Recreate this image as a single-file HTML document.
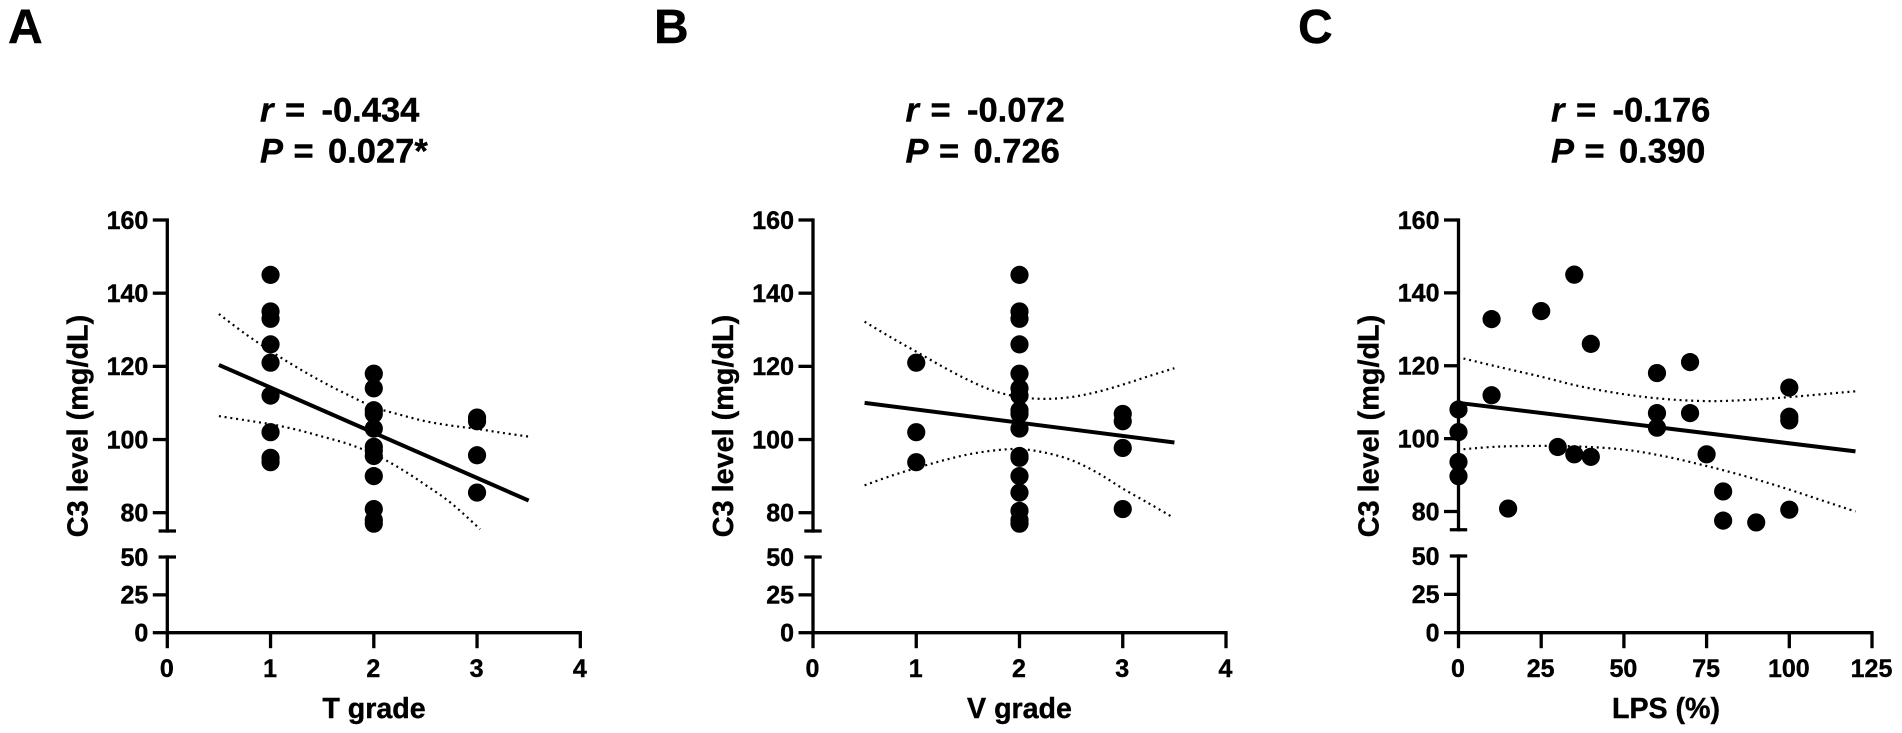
<!DOCTYPE html>
<html lang="en">
<head>
<meta charset="utf-8">
<title>C3 level correlations</title>
<style>
html,body{margin:0;padding:0;background:#fff;width:1902px;height:733px;overflow:hidden}
svg{display:block}
text{font-family:"Liberation Sans",sans-serif;font-weight:bold;fill:#000;stroke:#000;stroke-width:0.4}
</style>
</head>
<body>
<svg id="figure" width="1902" height="733" viewBox="0 0 1902 733" xmlns="http://www.w3.org/2000/svg">
  <rect width="1902" height="733" fill="#fff"/>
  <text x="8" y="43" font-size="48">A</text>
  <text x="654" y="43" font-size="48">B</text>
  <text x="1298" y="43" font-size="48">C</text>

  <text font-size="34.5" y="121.7"><tspan x="260" font-style="italic">r</tspan><tspan x="285">=</tspan><tspan x="321.5">-0.434</tspan></text>
  <text font-size="34.5" y="162.7"><tspan x="260" font-style="italic">P</tspan><tspan x="293.5">=</tspan><tspan x="328">0.027*</tspan></text>
  <text font-size="34.5" y="121.7"><tspan x="905.5" font-style="italic">r</tspan><tspan x="930.5">=</tspan><tspan x="967">-0.072</tspan></text>
  <text font-size="34.5" y="162.7"><tspan x="905.5" font-style="italic">P</tspan><tspan x="939">=</tspan><tspan x="973.5">0.726</tspan></text>
  <text font-size="34.5" y="121.7"><tspan x="1551" font-style="italic">r</tspan><tspan x="1576">=</tspan><tspan x="1612.5">-0.176</tspan></text>
  <text font-size="34.5" y="162.7"><tspan x="1551" font-style="italic">P</tspan><tspan x="1584.5">=</tspan><tspan x="1619">0.390</tspan></text>
</svg>
<script>
// Shared axis tick labels
const upperTicks = [80, 100, 120, 140, 160];
const lowerTicks = [0, 25, 50];
const gradeTicks = [0, 1, 2, 3, 4];
const lpsTicks = [0, 25, 50, 75, 100, 125];

// Panel A: T grade
const aPointsX = [1,1,1,1,1,1,1,1,1,2,2,2,2,2,2,2,2,2,2,2,2,3,3,3,3];
const aPointsY = [145,135,133,126,121,112,102,95,93.8,118,114,108,107,103,98,97,95.5,90,81,78,77,106,105,95.7,85.5];
const aFitX = [0.5, 3.5];
const aFitY = [120.4, 83.3];
const aUpperX = [0.5,0.75,1,1.25,1.5,1.75,2,2.25,2.5,2.75,3,3.25,3.5];
const aUpperY = [134.3,129,124.2,119.8,115.8,112.2,108.9,106.8,105,103.8,102.9,101.8,100.8];
const aLowerX = [0.5,0.75,1,1.25,1.5,1.75,2,2.25,2.5,2.75,3.03];
const aLowerY = [106.4,105.3,104.2,102.7,100.8,98.8,96,92.2,87.6,82.6,75.5];

// Panel B: V grade
const bPointsX = [1,1,1,2,2,2,2,2,2,2,2,2,2,2,2,2,2,2,2,2,3,3,3,3];
const bPointsY = [121,102,93.8,145,135,133,126,118,114,112,108,107,103,95.5,95,90,85.5,80.5,78,77,107,105,97.7,81];
const bFitX = [0.5, 3.5];
const bFitY = [110, 99.2];
const bUpperX = [0.5,0.75,1,1.25,1.5,1.75,2,2.25,2.5,2.75,3,3.25,3.5];
const bUpperY = [132.2,128,124,120,116.3,113.3,111.6,111.1,111.6,113,115,117.3,119.5];
const bLowerX = [0.5,0.75,1,1.25,1.5,1.75,2,2.25,2.5,2.75,3,3.25,3.47];
const bLowerY = [87.5,90,92.2,94.2,95.9,97,97.4,96.4,94.4,91,86.6,82.6,79];

// Panel C: LPS (%)
const cPointsX = [0,0,0,0,10,10,15,25,30,35,35,40,40,60,60,60,70,70,75,80,80,90,100,100,100,100];
const cPointsY = [108,101.8,93.6,89.7,132.8,111.9,80.8,135,97.7,145,95.7,126,95,118,107,103,121,107,95.7,85.5,77.5,77,114,106,105,80.5];
const cFitX = [1, 120];
const cFitY = [109.7, 96.5];
const cUpperX = [1.5,12,25,37,50,62,75,87,100,120];
const cUpperY = [122,119.7,117,114.3,112.2,110.9,110.3,110.6,111.4,113];
const cLowerX = [1.5,12,25,37,50,62,75,87,100,120];
const cLowerY = [97.1,97.8,98,97.8,97,95.2,92.5,89.6,86,80];

const NS = 'http://www.w3.org/2000/svg';
const figure = document.getElementById('figure');

function make(tag, attrs, parent) {
  const el = document.createElementNS(NS, tag);
  for (const k in attrs) el.setAttribute(k, attrs[k]);
  parent.appendChild(el);
  return el;
}

function smoothPath(pts) {
  let d = 'M' + pts[0][0].toFixed(1) + ' ' + pts[0][1].toFixed(1);
  for (let i = 0; i < pts.length - 1; i++) {
    const p0 = pts[Math.max(i - 1, 0)], p1 = pts[i], p2 = pts[i + 1], p3 = pts[Math.min(i + 2, pts.length - 1)];
    const c1x = p1[0] + (p2[0] - p0[0]) / 6, c1y = p1[1] + (p2[1] - p0[1]) / 6;
    const c2x = p2[0] - (p3[0] - p1[0]) / 6, c2y = p2[1] - (p3[1] - p1[1]) / 6;
    d += 'C' + c1x.toFixed(1) + ' ' + c1y.toFixed(1) + ' ' + c2x.toFixed(1) + ' ' + c2y.toFixed(1) + ' ' + p2[0].toFixed(1) + ' ' + p2[1].toFixed(1);
  }
  return d;
}

function drawPanel(p) {
  const g = make('g', {}, figure);
  
  

  const xPos = v => p.x0 + (v - p.xMin) * (p.xEnd - p.x0) / (p.xMax - p.xMin);
  const yUp = v => p.y80 - (v - 80) * (p.y80 - p.y160) / 80;
  const yLow = v => p.y0 - v * (p.y0 - p.y50) / 50;
  const axisStroke = { stroke: '#000', 'stroke-width': 3.3, fill: 'none' };

  // y axis
  const upperAxis = make('line', Object.assign({ x1: p.x0, x2: p.x0, y1: p.y160 - 1.6, y2: yUp(75) + 1.6 }, axisStroke), g);
  
  
  const lowerAxis = make('line', Object.assign({ x1: p.x0, x2: p.x0, y1: yLow(50) - 1.6, y2: p.y0 + 1.6 }, axisStroke), g);
  
  
  const breakCap = make('line', Object.assign({ x1: p.x0 - 8.7, x2: p.x0 + 8.7, y1: yUp(75), y2: yUp(75) }, axisStroke), g);
  
  

  // y ticks
  upperTicks.forEach(v => {
    const t = make('line', Object.assign({ x1: p.x0 - 14.5, x2: p.x0, y1: yUp(v), y2: yUp(v) }, axisStroke), g);
    
    
    const l = make('text', { x: p.x0 - 19, y: yUp(v) + 8.8, 'text-anchor': 'end', 'font-size': 25 }, g);
    
    
    l.textContent = v;
  });
  lowerTicks.forEach(v => {
    const isTop = v === 50;
    const t = make('line', Object.assign({ x1: p.x0 - (isTop ? 8.7 : 14.5), x2: p.x0 + (isTop ? 8.7 : 0), y1: yLow(v), y2: yLow(v) }, axisStroke), g);
    
    
    const l = make('text', { x: p.x0 - 19, y: yLow(v) + 8.8, 'text-anchor': 'end', 'font-size': 25 }, g);
    
    
    l.textContent = v;
  });

  // x axis
  const xAxis = make('line', Object.assign({ x1: p.x0 - 1.6, x2: p.xEnd + 1.6, y1: p.y0, y2: p.y0 }, axisStroke), g);
  
  
  p.xTicks.forEach(v => {
    const t = make('line', Object.assign({ x1: xPos(v), x2: xPos(v), y1: p.y0, y2: p.y0 + 15.5 }, axisStroke), g);
    
    
    const l = make('text', { x: xPos(v) - 0.5, y: 677, 'text-anchor': 'middle', 'font-size': 25 }, g);
    
    
    l.textContent = v;
  });

  // axis titles
  const xTitle = make('text', { x: p.xTitleX, y: 718, 'text-anchor': 'middle', 'font-size': 28.6 }, g);
  
  
  xTitle.textContent = p.xLabel;
  const yTitle = make('text', { transform: 'translate(' + (p.x0 - 80) + ',426) rotate(-90)', 'text-anchor': 'middle', 'font-size': 28.8 }, g);
  
  
  yTitle.textContent = 'C3 level (mg/dL)';

  // confidence bands
  const toXY = (xs, ys) => xs.map((x, i) => [xPos(x), yUp(ys[i])]);
  const upper = make('path', { d: smoothPath(toXY(p.upperX, p.upperY)), fill: 'none', stroke: '#000', 'stroke-width': 2.2, 'stroke-dasharray': '2 3.8' }, g);
  
  
  const lower = make('path', { d: smoothPath(toXY(p.lowerX, p.lowerY)), fill: 'none', stroke: '#000', 'stroke-width': 2.2, 'stroke-dasharray': '2 3.8' }, g);
  
  

  // points
  p.pointsX.forEach((x, i) => {
    const dot = make('circle', { cx: xPos(x), cy: yUp(p.pointsY[i]), r: 9.1, fill: '#000' }, g);
    
    
  });

  // regression line
  const fit = make('path', { d: smoothPath(toXY(p.fitX, p.fitY)), fill: 'none', stroke: '#000', 'stroke-width': 4 }, g);
  
  
}

drawPanel({ id: 'a', x0: 167.3, xEnd: 580.3, xMin: 0, xMax: 4, y160: 220, y80: 512.7, y50: 557, y0: 632.7,
  xTicks: gradeTicks, xLabel: 'T grade', xTitleX: 374,
  pointsX: aPointsX, pointsY: aPointsY, fitX: aFitX, fitY: aFitY,
  upperX: aUpperX, upperY: aUpperY, lowerX: aLowerX, lowerY: aLowerY });
drawPanel({ id: 'b', x0: 813, xEnd: 1226, xMin: 0, xMax: 4, y160: 220, y80: 512.7, y50: 557, y0: 632.7,
  xTicks: gradeTicks, xLabel: 'V grade', xTitleX: 1019.5,
  pointsX: bPointsX, pointsY: bPointsY, fitX: bFitX, fitY: bFitY,
  upperX: bUpperX, upperY: bUpperY, lowerX: bLowerX, lowerY: bLowerY });
drawPanel({ id: 'c', x0: 1458.5, xEnd: 1872, xMin: 0, xMax: 125, y160: 220, y80: 511.5, y50: 556, y0: 632.7,
  xTicks: lpsTicks, xLabel: 'LPS (%)', xTitleX: 1666,
  pointsX: cPointsX, pointsY: cPointsY, fitX: cFitX, fitY: cFitY,
  upperX: cUpperX, upperY: cUpperY, lowerX: cLowerX, lowerY: cLowerY });
</script>
</body>
</html>
